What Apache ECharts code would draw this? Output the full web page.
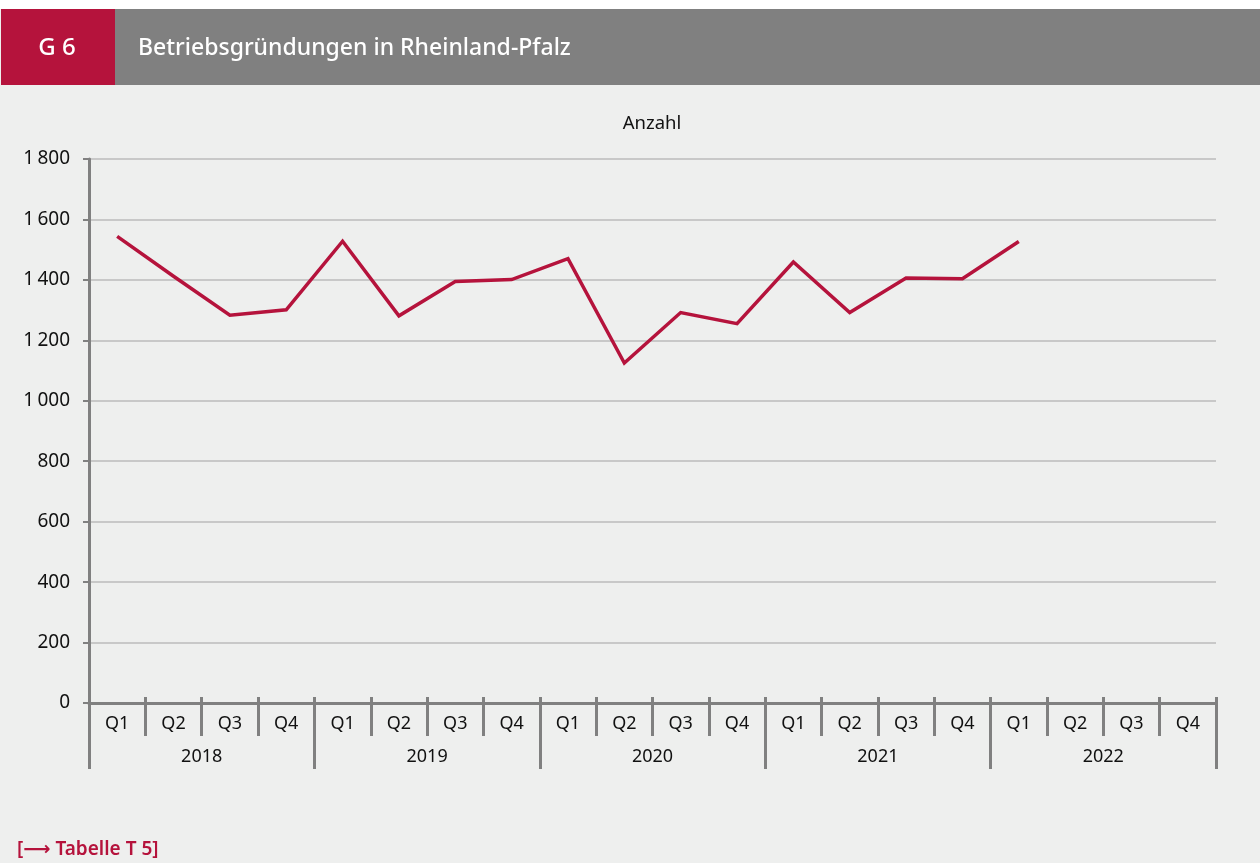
<!DOCTYPE html>
<html>
<head>
<meta charset="utf-8">
<script src="https://cdn.jsdelivr.net/npm/echarts@6.0.0/dist/echarts.min.js"></script>
<style>
  html, body { margin: 0; padding: 0; background: #fff; }
  #chart { width: 1260px; height: 863px; }
</style>
</head>
<body>
<div id="chart"></div>
<script>
// values
const quarters = ['Q1', 'Q2', 'Q3', 'Q4'];
const years = ['2018', '2019', '2020', '2021', '2022'];
const gruendungen = [
  1544, 1412, 1283, 1301,
  1528, 1281, 1395, 1401,
  1470, 1125, 1292, 1255,
  1459, 1292, 1406, 1404,
  1527, null, null, null
];
const yTicks = [0, 200, 400, 600, 800, 1000, 1200, 1400, 1600, 1800];

const red = '#b5133c';
const axisGrey = '#808080';
const font = 'Noto Sans';

const quarterCats = years.flatMap(() => quarters);

const chart = echarts.init(document.getElementById('chart'));
chart.setOption({
  animation: false,
  backgroundColor: '#eeefee',
  textStyle: { fontFamily: font },
  grid: { left: 89, right: 44, top: 159, bottom: 160 },
  graphic: [
    { type: 'rect', shape: { x: 0, y: 0, width: 1260, height: 9 }, style: { fill: '#fff' } },
    { type: 'rect', shape: { x: 1, y: 9, width: 114, height: 76 }, style: { fill: red } },
    { type: 'rect', shape: { x: 115, y: 9, width: 1145, height: 76 }, style: { fill: '#808080' } },
    { type: 'text', x: 57, y: 48, style: { text: 'G 6', fill: '#fff', font: '500 24px "Noto Sans"', align: 'center', verticalAlign: 'middle' } },
    { type: 'text', x: 138, y: 48, style: { text: 'Betriebsgründungen in Rheinland-Pfalz', fill: '#fff', font: '500 23px "Noto Sans"', verticalAlign: 'middle' } },
    { type: 'text', x: 652, y: 124, style: { text: 'Anzahl', fill: '#111', font: '18.5px "Noto Sans"', align: 'center', verticalAlign: 'middle' } },
    { type: 'text', x: 17, y: 850, style: { text: '[\u27f6 Tabelle T 5]', fill: red, font: '600 19px "Noto Sans", "DejaVu Sans"', verticalAlign: 'middle' } }
  ],
  xAxis: [
    {
      type: 'category',
      data: quarterCats,
      position: 'bottom',
      boundaryGap: true,
      axisLine: { show: true, lineStyle: { color: axisGrey, width: 3 } },
      axisTick: { show: true, interval: 0, length: 33, lineStyle: { color: axisGrey, width: 3 } },
      axisLabel: { interval: 0, margin: 12, fontSize: 18, color: '#111', fontFamily: font },
      splitLine: { show: false }
    },
    {
      type: 'category',
      data: years,
      position: 'bottom',
      boundaryGap: true,
      axisLine: { show: false },
      axisTick: { show: true, interval: 0, length: 66, lineStyle: { color: axisGrey, width: 3 } },
      axisLabel: { interval: 0, margin: 45, fontSize: 18, color: '#111', fontFamily: font },
      splitLine: { show: false }
    },
    {
      type: 'category',
      data: quarterCats,
      position: 'bottom',
      boundaryGap: true,
      axisLine: { show: false },
      axisTick: { show: true, inside: true, interval: 0, length: 6, lineStyle: { color: axisGrey, width: 3 } },
      axisLabel: { show: false },
      splitLine: { show: false }
    }
  ],
  yAxis: {
    type: 'value',
    min: yTicks[0],
    max: yTicks[yTicks.length - 1],
    interval: 200,
    axisLine: { show: true, lineStyle: { color: axisGrey, width: 3 } },
    axisTick: { show: true, length: 6, lineStyle: { color: axisGrey, width: 2 } },
    axisLabel: {
      margin: 19,
      fontSize: 19,
      color: '#111',
      fontFamily: font,
      formatter: (v) => String(v).replace(/\B(?=(\d{3})+(?!\d))/g, '\u2009')
    },
    splitLine: { show: true, lineStyle: { color: '#c8c8c8', width: 2 } }
  },
  series: [{
    name: 'Betriebsgründungen',
    type: 'line',
    xAxisIndex: 0,
    data: gruendungen,
    symbol: 'none',
    connectNulls: false,
    lineStyle: { color: red, width: 3.5, join: 'miter' }
  }]
});
</script>
</body>
</html>
